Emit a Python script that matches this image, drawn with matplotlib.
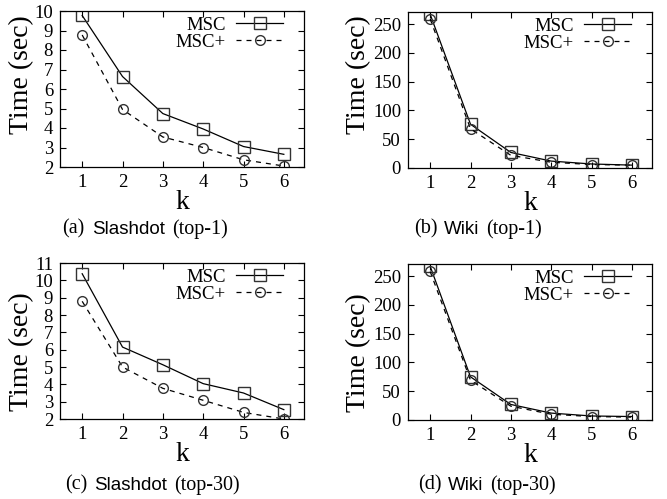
import matplotlib
matplotlib.use("Agg")
import matplotlib.pyplot as plt
from matplotlib.offsetbox import TextArea, HPacker, AnnotationBbox

k = [1, 2, 3, 4, 5, 6]

slash1_msc = [9.77, 6.64, 4.74, 3.95, 3.05, 2.65]
slash1_mscp = [8.77, 4.95, 3.54, 3.0, 2.37, 2.05]
wiki1_msc = [267, 76, 27, 12, 7, 5]
wiki1_mscp = [259, 68, 22, 10, 6, 5]
slash30_msc = [10.38, 6.15, 5.13, 4.04, 3.5, 2.54]
slash30_mscp = [8.79, 5.0, 3.77, 3.08, 2.38, 2.0]
wiki30_msc = [267, 75, 27, 12, 7, 6]
wiki30_mscp = [258, 69, 24, 10, 6, 5]

captions = [("(a)", "Slashdot", "(top-1)"), ("(b)", "Wiki", "(top-1)"),
            ("(c)", "Slashdot", "(top-30)"), ("(d)", "Wiki", "(top-30)")]

W, H = 667, 499
fig = plt.figure(figsize=(W / 100, H / 100), dpi=100)
serif = "Liberation Serif"
sans = "Liberation Sans"

# (left px, top px, series..., ylim, yticks, ylabel x frac, ylabel y frac)
panels = [
    (60, 11, slash1_msc, slash1_mscp, (2, 10), range(2, 11), -0.107, 0.59),
    (408, 12, wiki1_msc, wiki1_mscp, (0, 271), range(0, 251, 50), -0.152, 0.60),
    (60, 263, slash30_msc, slash30_mscp, (2, 11), range(2, 12), -0.107, 0.43),
    (408, 264, wiki30_msc, wiki30_mscp, (0, 271), range(0, 251, 50), -0.152, 0.43),
]
cap_centers = [(145, 229), (478, 229), (152, 485), (487, 485)]

for i, (lx, ty, msc, mscp, ylim, yt, ylx, yly) in enumerate(panels):
    ax = fig.add_axes([lx / W, 1 - (ty + 156) / H, 244 / W, 156 / H])
    ax.plot(k, msc, color="black", lw=0.9, marker="s", ms=8, mfc="none",
            mec="#333333", mew=1.0, label="MSC")
    ax.plot(k, mscp, color="black", lw=0.9, ls=(0, (4, 4)), marker="o", ms=7,
            mfc="none", mec="#333333", mew=1.0, label="MSC+")
    ax.set_xlim(0.45, 6.5)
    ax.set_ylim(*ylim)
    ax.set_xticks(k)
    ax.set_yticks(list(yt))
    ax.tick_params(direction="in", top=True, right=True, length=4, width=0.8,
                   labelsize=13.5, pad=5)
    for lab in ax.get_xticklabels() + ax.get_yticklabels():
        lab.set_fontfamily(serif)
    for s in ax.spines.values():
        s.set_linewidth(0.9)
    ax.set_xlabel("k", fontfamily=serif, fontsize=20, labelpad=-1)
    ax.set_ylabel("Time (sec)", fontfamily=serif, fontsize=20)
    ax.yaxis.set_label_coords(ylx, yly)
    ax.legend(loc="upper right", bbox_to_anchor=(223 / 244, 0.965),
              frameon=False, markerfirst=False,
              prop={"family": serif, "size": 13.5}, handlelength=2.5,
              borderaxespad=0.0, borderpad=0.0, labelspacing=0.0,
              handletextpad=0.55)
    a, b, c = captions[i]
    box = HPacker(children=[
        TextArea(a, textprops=dict(family=serif, size=14.5)),
        TextArea(b, textprops=dict(family=sans, size=13.5)),
        TextArea(c, textprops=dict(family=serif, size=14.5)),
    ], align="baseline", pad=0, sep=5)
    cx, cy = cap_centers[i]
    ab = AnnotationBbox(box, (cx / W, 1 - cy / H), xycoords="figure fraction",
                        frameon=False, box_alignment=(0.5, 0.5))
    fig.add_artist(ab)

fig.savefig("out.png", dpi=100)
